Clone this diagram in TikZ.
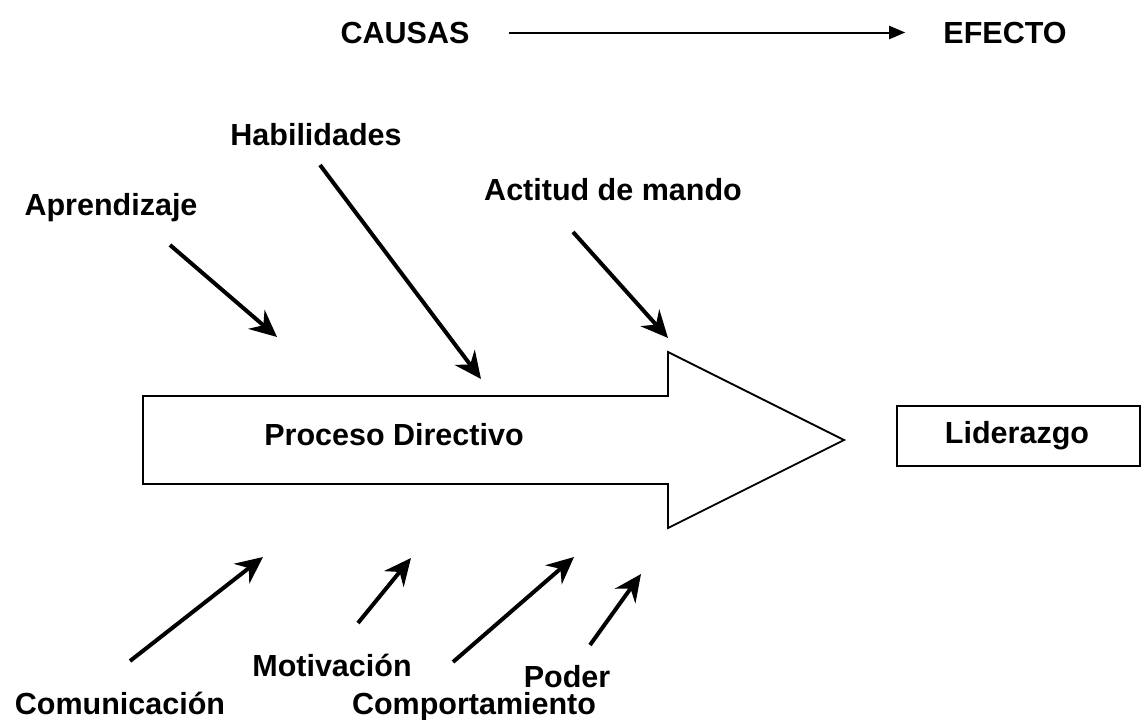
\documentclass[tikz,border=0pt]{standalone}
\usepackage{fontspec}
\setmainfont{Liberation Sans}
\usetikzlibrary{arrows.meta}
\begin{document}
\begin{tikzpicture}[x=1pt,y=-1pt,
  lbl/.style={font=\fontsize{30.5}{36}\selectfont\bfseries, inner sep=0pt, anchor=base},
  cause/.style={line width=4pt, -{Stealth[length=27pt,width=25pt,inset=9pt]}},
  bigarrow/.style={draw, line width=1.8pt, line join=miter},
  resultbox/.style={draw, line width=2pt, minimum width=243pt, minimum height=60pt, inner sep=0pt}]
\useasboundingbox (0,0) rectangle (1143,720);
% header
\node[lbl] (causas) at (405,43) {CAUSAS};
\node[lbl] (efecto) at (1005,43) {EFECTO};
\draw[line width=2pt, -{Triangle[length=16pt,width=13pt]}, shorten <=39pt, shorten >=38pt] (causas.east) -- (efecto.west);
% big arrow
\draw[bigarrow] (143,396) -- (668,396) -- (668,352) -- (844,440) -- (668,528) -- (668,484) -- (143,484) -- cycle;
\node[lbl] (proceso) at (394,445) {Proceso Directivo};
% result
\node[resultbox] (lider) at (1018.5,436) {};
\node[lbl] (lidertxt) at (1017,443) {Liderazgo};
% labels
\node[lbl] (aprend) at (111,215) {Aprendizaje};
\node[lbl] (habil) at (316,145) {Habilidades};
\node[lbl] (actitud) at (613,200) {Actitud de mando};
\node[lbl] (comun) at (120,714) {Comunicación};
\node[lbl] (motiv) at (332,676) {Motivación};
\node[lbl] (comport) at (474,714) {Comportamiento};
\node[lbl] (poder) at (567,687) {Poder};
% arrow end points
\coordinate (a1) at (170,245); \coordinate (a2) at (277,337);
\coordinate (h1) at (320,165); \coordinate (h2) at (481,379);
\coordinate (c1) at (573,232); \coordinate (c2) at (668,338);
\coordinate (m1) at (130,661); \coordinate (m2) at (263,557);
\coordinate (v1) at (358,623); \coordinate (v2) at (411,558);
\coordinate (p1) at (453,662); \coordinate (p2) at (574,557);
\coordinate (o1) at (590,645); \coordinate (o2) at (641,574);
\draw[cause] (a1) -- (a2);
\draw[cause] (h1) -- (h2);
\draw[cause] (c1) -- (c2);
\draw[cause] (m1) -- (m2);
\draw[cause] (v1) -- (v2);
\draw[cause] (p1) -- (p2);
\draw[cause] (o1) -- (o2);
\end{tikzpicture}
\end{document}
